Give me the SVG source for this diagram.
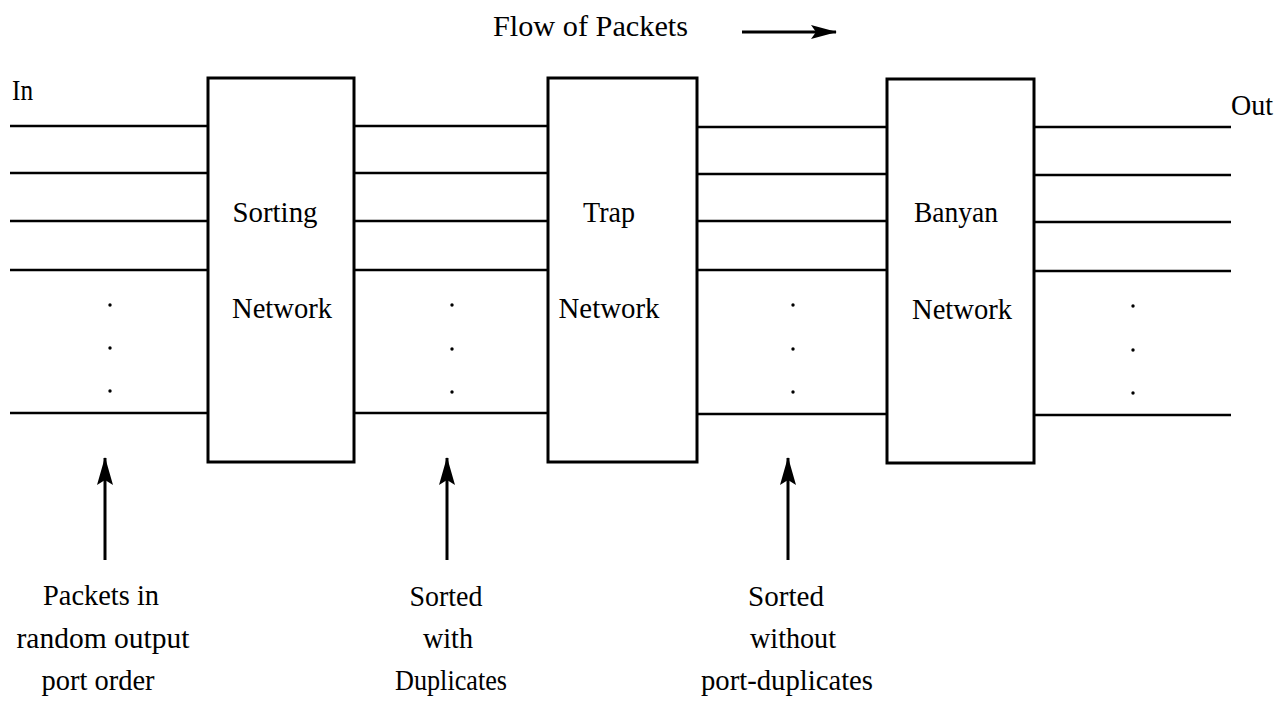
<svg xmlns="http://www.w3.org/2000/svg" width="1287" height="709" viewBox="0 0 1287 709">
<defs>
<style>
.t{font-family:"Liberation Serif","Times New Roman",serif;font-size:29px;fill:#000}
.m{text-anchor:middle}
.box{fill:#fff;stroke:#000;stroke-width:3}
.ln{stroke:#000;stroke-width:2.6;fill:none}
.arr{stroke:#000;stroke-width:3;fill:none}
</style>
<marker id="av" viewBox="0 0 28 16" refX="27" refY="8" markerWidth="28" markerHeight="16" markerUnits="userSpaceOnUse" orient="auto">
<path d="M0,0 L28,8 L0,16 L5,8 z" fill="#000"/>
</marker>
<marker id="ah2" viewBox="0 0 26 14" refX="25" refY="7" markerWidth="26" markerHeight="14" markerUnits="userSpaceOnUse" orient="auto">
<path d="M0,0 L26,7 L0,14 L5,7 z" fill="#000"/>
</marker>
</defs>
<rect width="1287" height="709" fill="#fff"/>

<g id="connectors">
<!-- input lines -->
<line class="ln" x1="10" y1="126" x2="208" y2="126"/>
<line class="ln" x1="10" y1="173" x2="208" y2="173"/>
<line class="ln" x1="10" y1="221" x2="208" y2="221"/>
<line class="ln" x1="10" y1="270" x2="208" y2="270"/>
<line class="ln" x1="10" y1="413" x2="208" y2="413"/>
<!-- between sorting and trap -->
<line class="ln" x1="354" y1="126" x2="548" y2="126"/>
<line class="ln" x1="354" y1="173" x2="548" y2="173"/>
<line class="ln" x1="354" y1="221" x2="548" y2="221"/>
<line class="ln" x1="354" y1="270" x2="548" y2="270"/>
<line class="ln" x1="354" y1="413" x2="548" y2="413"/>
<!-- between trap and banyan -->
<line class="ln" x1="697" y1="127" x2="887" y2="127"/>
<line class="ln" x1="697" y1="174" x2="887" y2="174"/>
<line class="ln" x1="697" y1="221" x2="887" y2="221"/>
<line class="ln" x1="697" y1="270" x2="887" y2="270"/>
<line class="ln" x1="697" y1="414" x2="887" y2="414"/>
<!-- outputs -->
<line class="ln" x1="1034" y1="127" x2="1231" y2="127"/>
<line class="ln" x1="1034" y1="175" x2="1231" y2="175"/>
<line class="ln" x1="1034" y1="222" x2="1231" y2="222"/>
<line class="ln" x1="1034" y1="271" x2="1231" y2="271"/>
<line class="ln" x1="1034" y1="415" x2="1231" y2="415"/>
<!-- flow arrow -->
<line class="arr" x1="742" y1="32" x2="836" y2="32" stroke-width="2.6" marker-end="url(#ah2)"/>
<!-- pointer arrows -->
<line class="arr" x1="105" y1="560" x2="105" y2="458" marker-end="url(#av)"/>
<line class="arr" x1="447" y1="560" x2="447" y2="458" marker-end="url(#av)"/>
<line class="arr" x1="788" y1="560" x2="788" y2="458" marker-end="url(#av)"/>
</g>

<g id="dots" fill="#000">
<circle cx="110" cy="305" r="1.7"/><circle cx="110" cy="348" r="1.7"/><circle cx="110" cy="391" r="1.7"/>
<circle cx="452" cy="305" r="1.7"/><circle cx="452" cy="349" r="1.7"/><circle cx="452" cy="392" r="1.7"/>
<circle cx="793" cy="305" r="1.7"/><circle cx="793" cy="349" r="1.7"/><circle cx="793" cy="392" r="1.7"/>
<circle cx="1133" cy="306" r="1.7"/><circle cx="1133" cy="350" r="1.7"/><circle cx="1133" cy="393" r="1.7"/>
</g>

<g id="sorting">
<rect class="box" x="208" y="78" width="146" height="384"/>
<text class="t m" x="275" y="222" textLength="85" lengthAdjust="spacingAndGlyphs">Sorting</text>
<text class="t m" x="282" y="318" textLength="100" lengthAdjust="spacingAndGlyphs">Network</text>
</g>
<g id="trap">
<rect class="box" x="548" y="78" width="149" height="384"/>
<text class="t m" x="609" y="222" textLength="52" lengthAdjust="spacingAndGlyphs">Trap</text>
<text class="t m" x="609" y="318" textLength="101" lengthAdjust="spacingAndGlyphs">Network</text>
</g>
<g id="banyan">
<rect class="box" x="887" y="79" width="147" height="384"/>
<text class="t m" x="956" y="222" textLength="84" lengthAdjust="spacingAndGlyphs">Banyan</text>
<text class="t m" x="962" y="319" textLength="100" lengthAdjust="spacingAndGlyphs">Network</text>
</g>

<g id="labels">
<text class="t" x="493" y="36" textLength="195" lengthAdjust="spacingAndGlyphs">Flow of Packets</text>
<text class="t" x="12" y="100" textLength="21" lengthAdjust="spacingAndGlyphs">In</text>
<text class="t" x="1231" y="115" textLength="42" lengthAdjust="spacingAndGlyphs">Out</text>
</g>
<g id="note-input">
<text class="t m" x="101" y="605" textLength="116" lengthAdjust="spacingAndGlyphs">Packets in</text>
<text class="t m" x="103" y="648" textLength="173" lengthAdjust="spacingAndGlyphs">random output</text>
<text class="t m" x="98" y="690" textLength="113" lengthAdjust="spacingAndGlyphs">port order</text>
</g>
<g id="note-sorted">
<text class="t m" x="446" y="606" textLength="73" lengthAdjust="spacingAndGlyphs">Sorted</text>
<text class="t m" x="448" y="648" textLength="50" lengthAdjust="spacingAndGlyphs">with</text>
<text class="t m" x="451" y="690" textLength="112" lengthAdjust="spacingAndGlyphs">Duplicates</text>
</g>
<g id="note-trapped">
<text class="t m" x="786" y="606" textLength="76" lengthAdjust="spacingAndGlyphs">Sorted</text>
<text class="t m" x="793" y="648" textLength="86" lengthAdjust="spacingAndGlyphs">without</text>
<text class="t m" x="787" y="690" textLength="172" lengthAdjust="spacingAndGlyphs">port-duplicates</text>
</g>
</svg>
